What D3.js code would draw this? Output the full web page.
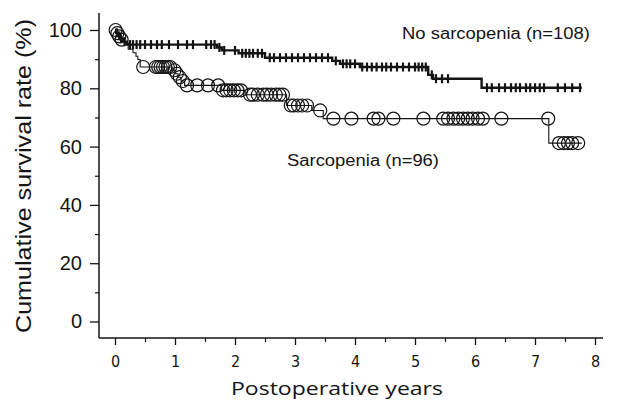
<!DOCTYPE html>
<html>
<head>
<meta charset="utf-8">
<script src="https://cdn.jsdelivr.net/npm/d3@7"></script>
<style>
  html, body { margin: 0; padding: 0; background: #fff; }
  svg { display: block; }
</style>
</head>
<body>
<div id="chart"></div>
<script>
// Kaplan-Meier curves (years, %)
const noSarcTime = [0, 0.02, 0.05, 0.09, 0.13, 0.2, 1.7, 1.78, 2.06, 2.5, 3.62, 3.75, 4.08, 5.22, 5.3, 6.11];
const noSarcSurv = [100, 99, 98, 97, 96, 95, 94, 93, 92, 90.5, 89.4, 88.4, 87.3, 84.6, 83.3, 80.2];
const noSarcEnd = 7.78;
const noSarcCensor = [0.03, 0.07, 0.1, 0.16, 0.25, 0.3, 0.36, 0.42, 0.5, 0.6, 0.7, 0.78, 0.9, 1.05, 1.2, 1.3,
  1.52, 1.6, 1.66, 1.74, 1.82, 2.0, 2.12, 2.18, 2.24, 2.3, 2.38, 2.45, 2.58, 2.65, 2.75, 2.85, 2.95, 3.05,
  3.15, 3.25, 3.35, 3.45, 3.55, 3.68, 3.8, 3.86, 3.92, 4.0, 4.12, 4.2, 4.28, 4.36, 4.45, 4.52, 4.6, 4.7,
  4.8, 4.9, 5.0, 5.06, 5.12, 5.18, 5.28, 5.35, 5.45, 5.55, 6.2, 6.28, 6.4, 6.5, 6.6, 6.68, 6.75, 6.85,
  6.92, 7.0, 7.08, 7.15, 7.38, 7.5, 7.62, 7.75];

const sarcTime = [0, 0.03, 0.06, 0.1, 0.15, 0.22, 0.3, 0.35, 0.38, 0.42, 0.95, 1.0, 1.05, 1.1, 1.16, 1.77, 2.17, 2.86, 3.28, 3.47, 7.23];
const sarcSurv = [100, 98.9, 97.8, 96.7, 95.6, 93.4, 92.2, 91, 89.9, 87.3, 86.2, 85, 83.8, 82.5, 81, 79.3, 77.8, 74.1, 72.4, 69.6, 61.2];
const sarcEnd = 7.78;
const sarcCensor = [0.01, 0.04, 0.07, 0.11, 0.47, 0.68, 0.72, 0.76, 0.8, 0.84, 0.88, 0.92, 0.99, 1.03, 1.08,
  1.13, 1.2, 1.37, 1.55, 1.72, 1.8, 1.86, 1.92, 1.98, 2.04, 2.1, 2.25, 2.3, 2.38, 2.47, 2.53, 2.6, 2.68,
  2.74, 2.8, 2.93, 2.98, 3.05, 3.12, 3.2, 3.42, 3.64, 3.94, 4.31, 4.39, 4.64, 5.14, 5.47, 5.55, 5.64,
  5.72, 5.8, 5.88, 5.96, 6.05, 6.13, 6.44, 7.22, 7.4, 7.48, 7.55, 7.62, 7.72];

const xTicks = [0, 1, 2, 3, 4, 5, 6, 7, 8];
const xMinor = [0.5, 1.5, 2.5, 3.5, 4.5, 5.5, 6.5, 7.5];
const yTicks = [0, 20, 40, 60, 80, 100];
const yMinor = [10, 30, 50, 70, 90];

const width = 619, height = 403;
const ink = "#141414";

const svg = d3.select("#chart").append("svg")
  .attr("width", width)
  .attr("height", height);

const x = d3.scaleLinear().domain([0, 8]).range([115, 595]);
const y = d3.scaleLinear().domain([0, 100]).range([321.5, 30]);

const axisX = 99, axisY = 338;

// axes lines
svg.append("line")
  .attr("x1", axisX).attr("x2", axisX)
  .attr("y1", 13).attr("y2", axisY)
  .attr("stroke", ink).attr("stroke-width", 1.5);
svg.append("line")
  .attr("x1", axisX).attr("x2", 603)
  .attr("y1", axisY).attr("y2", axisY)
  .attr("stroke", ink).attr("stroke-width", 1.5);

// y axis
const yAxis = svg.append("g")
  .attr("transform", `translate(${axisX},0)`)
  .call(d3.axisLeft(y).tickValues(yTicks).tickSize(9).tickPadding(8).tickSizeOuter(0));
yAxis.select(".domain").remove();
yAxis.selectAll("line").attr("stroke", ink).attr("stroke-width", 1.3);
yAxis.selectAll("text")
  .attr("fill", ink)
  .style("font-family", "'Liberation Sans', Arial, sans-serif")
  .style("font-size", "20px");

const yAxisMinor = svg.append("g")
  .attr("transform", `translate(${axisX},0)`)
  .call(d3.axisLeft(y).tickValues(yMinor).tickSize(4).tickFormat(""));
yAxisMinor.select(".domain").remove();
yAxisMinor.selectAll("line").attr("stroke", ink).attr("stroke-width", 1.2);

// x axis
const xAxis = svg.append("g")
  .attr("transform", `translate(0,${axisY})`)
  .call(d3.axisBottom(x).tickValues(xTicks).tickSize(7).tickPadding(11).tickSizeOuter(0));
xAxis.select(".domain").remove();
xAxis.selectAll("line").attr("stroke", ink).attr("stroke-width", 1.3);
xAxis.selectAll("text")
  .attr("fill", ink)
  .style("font-family", "'Liberation Sans Narrow', 'DejaVu Sans Condensed', sans-serif")
  .style("font-size", "16px");

const xAxisMinor = svg.append("g")
  .attr("transform", `translate(0,${axisY})`)
  .call(d3.axisBottom(x).tickValues(xMinor).tickSize(4).tickFormat(""));
xAxisMinor.select(".domain").remove();
xAxisMinor.selectAll("line").attr("stroke", ink).attr("stroke-width", 1.2);

// axis titles
svg.append("text")
  .attr("x", 337).attr("y", 395)
  .attr("text-anchor", "middle")
  .attr("textLength", 212).attr("lengthAdjust", "spacingAndGlyphs")
  .attr("fill", ink)
  .style("font-family", "'Open Sans', sans-serif")
  .style("font-size", "19px")
  .text("Postoperative years");

svg.append("text")
  .attr("transform", "translate(31,176) rotate(-90)")
  .attr("text-anchor", "middle")
  .attr("textLength", 314).attr("lengthAdjust", "spacingAndGlyphs")
  .attr("fill", ink)
  .style("font-family", "'Liberation Sans', Arial, sans-serif")
  .style("font-size", "22px")
  .text("Cumulative survival rate (%)");

// step curves
function stepPoints(times, surv, end) {
  const pts = times.map((t, i) => [t, surv[i]]);
  pts.push([end, surv[surv.length - 1]]);
  return pts;
}
function survAt(times, surv, t) {
  let s = surv[0];
  for (let i = 0; i < times.length; i++) if (times[i] <= t) s = surv[i];
  return s;
}

const line = d3.line()
  .x(d => x(d[0]))
  .y(d => y(d[1]))
  .curve(d3.curveStepAfter);

// Sarcopenia (thin line, open circles)
svg.append("path")
  .datum(stepPoints(sarcTime, sarcSurv, sarcEnd))
  .attr("d", line)
  .attr("fill", "none")
  .attr("stroke", ink)
  .attr("stroke-width", 1.1);

svg.append("g").selectAll("circle")
  .data(sarcCensor)
  .join("circle")
  .attr("cx", d => x(d))
  .attr("cy", d => y(survAt(sarcTime, sarcSurv, d)))
  .attr("r", 6.5)
  .attr("fill", "none")
  .attr("stroke", ink)
  .attr("stroke-width", 1.2);

// No sarcopenia (thick line, tick marks)
svg.append("path")
  .datum(stepPoints(noSarcTime, noSarcSurv, noSarcEnd))
  .attr("d", line)
  .attr("fill", "none")
  .attr("stroke", ink)
  .attr("stroke-width", 2.4);

svg.append("g").selectAll("line")
  .data(noSarcCensor)
  .join("line")
  .attr("x1", d => x(d)).attr("x2", d => x(d))
  .attr("y1", d => y(survAt(noSarcTime, noSarcSurv, d)) - 4.5)
  .attr("y2", d => y(survAt(noSarcTime, noSarcSurv, d)) + 4.5)
  .attr("stroke", ink)
  .attr("stroke-width", 2.2);

// group labels
svg.append("text")
  .attr("x", 402).attr("y", 39)
  .attr("textLength", 188).attr("lengthAdjust", "spacingAndGlyphs")
  .attr("fill", ink)
  .style("font-family", "'Liberation Sans', Arial, sans-serif")
  .style("font-size", "16px")
  .text("No sarcopenia (n=108)");

svg.append("text")
  .attr("x", 287).attr("y", 166)
  .attr("textLength", 152).attr("lengthAdjust", "spacingAndGlyphs")
  .attr("fill", ink)
  .style("font-family", "'Liberation Sans', Arial, sans-serif")
  .style("font-size", "16px")
  .text("Sarcopenia (n=96)");
</script>
</body>
</html>
